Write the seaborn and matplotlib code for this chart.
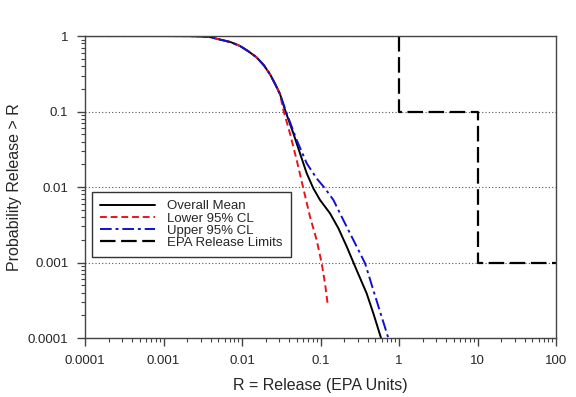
import seaborn as sns
from matplotlib import pyplot as plt
from matplotlib import ticker
import numpy as np

# release (EPA units) vs probability of exceeding it
top_x = [1e-4, 1e-3, 0.002, 0.003, 0.004, 0.0052, 0.0072, 0.0094, 0.012, 0.0154, 0.019, 0.0228, 0.0265, 0.0305]
top_p = [1.0, 1.0, 0.998, 0.99, 0.965, 0.90, 0.83, 0.74, 0.63, 0.52, 0.41, 0.31, 0.23, 0.17]

mean_x = top_x + [0.0353, 0.0451, 0.0548, 0.0667, 0.081, 0.0986, 0.132, 0.169, 0.216, 0.289, 0.387, 0.471, 0.59]
mean_p = top_p + [0.105, 0.0514, 0.0279, 0.0152, 0.0096, 0.00673, 0.00449, 0.00284, 0.00162, 0.00079, 0.00039, 0.000212, 0.0001]

lower_x = top_x + [0.0336, 0.0408, 0.0497, 0.0604, 0.0735, 0.0893, 0.1035, 0.114, 0.1235]
lower_p = top_p + [0.105, 0.0514, 0.0228, 0.0096, 0.00404, 0.00199, 0.00098, 0.00053, 0.00028]

upper_x = top_x + [0.0371, 0.0497, 0.0667, 0.0893, 0.114, 0.146, 0.195, 0.262, 0.369, 0.471, 0.602, 0.731]
upper_p = top_p + [0.0946, 0.042, 0.0206, 0.013, 0.0096, 0.00673, 0.00366, 0.00199, 0.00098, 0.00043, 0.00019, 0.0001]

epa_x = [1, 1, 10, 10, 100]
epa_p = [1, 0.1, 0.1, 0.001, 0.001]

decade_labels = ['0.0001', '0.001', '0.01', '0.1', '1', '10', '100']

sns.set_style('ticks')
plt.rcParams['font.family'] = ['Liberation Sans', 'DejaVu Sans']

fig = plt.figure(figsize=(5.76, 3.97), dpi=100)
ax = fig.add_axes([0.1476, 0.1486, 0.8177, 0.7606])

kw = dict(sort=False, estimator=None, ax=ax)
sns.lineplot(x=mean_x, y=mean_p, color='black', lw=1.4, label='Overall Mean', **kw)
sns.lineplot(x=lower_x, y=lower_p, color='#e8141c', lw=1.4, label='Lower 95% CL', **kw)
sns.lineplot(x=upper_x, y=upper_p, color='#1010d0', lw=1.4, label='Upper 95% CL', **kw)
sns.lineplot(x=epa_x, y=epa_p, color='black', lw=1.6, label='EPA Release Limits', **kw)

lines = ax.get_lines()
lines[1].set_dashes([3.5, 2])
lines[2].set_dashes([6, 2, 1.5, 2])
lines[3].set_dashes([7, 2.5])

ax.set_xscale('log')
ax.set_yscale('log')
ax.set_xlim(1e-4, 100)
ax.set_ylim(1e-4, 1)

ax.xaxis.set_major_locator(ticker.FixedLocator([10.0 ** k for k in range(-4, 3)]))
ax.xaxis.set_major_formatter(ticker.FixedFormatter(decade_labels))
ax.yaxis.set_major_locator(ticker.FixedLocator([10.0 ** k for k in range(-4, 1)]))
ax.yaxis.set_major_formatter(ticker.FixedFormatter(decade_labels[:5]))
ax.xaxis.set_minor_locator(ticker.LogLocator(base=10, subs=np.arange(2, 10), numticks=20))
ax.yaxis.set_minor_locator(ticker.LogLocator(base=10, subs=np.arange(2, 10), numticks=20))
ax.xaxis.set_minor_formatter(ticker.NullFormatter())
ax.yaxis.set_minor_formatter(ticker.NullFormatter())

ax.tick_params(which='major', direction='out', length=6, width=1, color='#444444', labelsize=9.5, pad=6)
ax.tick_params(which='minor', direction='out', length=3, width=0.8, color='#444444')
for s in ax.spines.values():
    s.set_color('#444444')
    s.set_linewidth(1)

ax.yaxis.grid(True, which='major', linestyle=(0, (1, 2)), color='#555555', lw=0.8)
ax.xaxis.grid(False)

ax.set_xlabel('R = Release (EPA Units)', fontsize=11.5, labelpad=8)
ax.set_ylabel('Probability Release > R', fontsize=11.5, labelpad=4)

leg = ax.legend(loc='upper left', bbox_to_anchor=(0.015, 0.483), borderaxespad=0,
                fontsize=9.5, frameon=True, fancybox=False, labelspacing=0.0,
                handlelength=4.2, handletextpad=0.9, borderpad=0.6)
leg.get_frame().set_edgecolor('black')
leg.get_frame().set_linewidth(1)

fig.savefig('out.png', dpi=100)
